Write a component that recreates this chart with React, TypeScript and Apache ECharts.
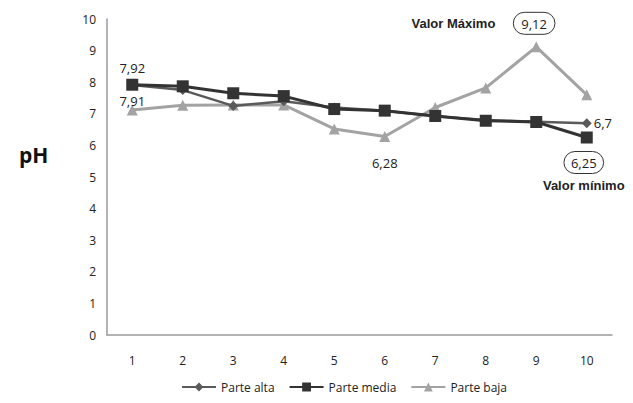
import React, { useEffect, useRef } from "react";
import * as echarts from "echarts";

const categories = ["1", "2", "3", "4", "5", "6", "7", "8", "9", "10"];
const parteAlta = [7.91, 7.75, 7.25, 7.4, 7.2, 7.1, 6.92, 6.8, 6.75, 6.7];
const parteMedia = [7.92, 7.87, 7.65, 7.56, 7.15, 7.1, 6.93, 6.78, 6.74, 6.25];
const parteBaja = [7.12, 7.27, 7.28, 7.28, 6.52, 6.28, 7.2, 7.82, 9.12, 7.6];
const yTicks = [0, 10, 1];

const narrow = "'Liberation Sans Narrow', 'Arial Narrow', 'Liberation Sans', sans-serif";
const font = "'Open Sans', 'Liberation Sans', sans-serif";

export default function App() {
  const ref = useRef<HTMLDivElement>(null);
  useEffect(() => {
    const chart = echarts.init(ref.current!, null, { renderer: "svg" });
    const mk = (arr: number[], fn: (v: number, i: number) => any) =>
      arr.map((v, i) => fn(v, i));
    chart.setOption({
      animation: false,
      backgroundColor: "#fff",
      textStyle: { fontFamily: font },
      grid: { left: 107, right: 21, top: 19, bottom: 68 },
      legend: {
        bottom: 5,
        left: 176,
        itemWidth: 34,
        itemHeight: 11,
        itemGap: 14,
        textStyle: { fontSize: 12, color: "#222", fontFamily: font },
        data: ["Parte alta", "Parte media", "Parte baja"],
      },
      graphic: [
        {
          type: "text",
          left: 19,
          top: 144,
          style: { text: "pH", font: `bold 21px ${font}`, fill: "#111" },
        },
      ],
      xAxis: {
        type: "category",
        data: categories,
        boundaryGap: true,
        axisLine: { lineStyle: { color: "#9a9a9a", width: 1.5 } },
        axisTick: { show: false },
        axisLabel: { fontSize: 12, color: "#222", margin: 19, fontFamily: font },
      },
      yAxis: {
        type: "value",
        min: yTicks[0],
        max: yTicks[1],
        interval: yTicks[2],
        splitLine: { show: false },
        axisLine: { show: true, lineStyle: { color: "#9a9a9a", width: 1.5 } },
        axisTick: { show: false },
        axisLabel: { fontSize: 12, color: "#222", margin: 11, fontFamily: font },
      },
      series: [
        {
          name: "Parte alta",
          type: "line",
          symbol: "diamond",
          symbolSize: 10,
          z: 3,
          lineStyle: { color: "#5a5a5a", width: 2.5 },
          itemStyle: { color: "#5a5a5a" },
          data: mk(parteAlta, (v, i) => {
            if (i === 0)
              return {
                value: v,
                label: {
                  show: true,
                  position: "bottom",
                  distance: 4,
                  formatter: "7,91",
                  fontSize: 13,
                  color: "#222",
                },
              };
            if (i === 9)
              return {
                value: v,
                label: {
                  show: true,
                  position: "right",
                  distance: 2,
                  formatter: "6,7",
                  fontSize: 13,
                  color: "#222",
                },
              };
            return v;
          }),
        },
        {
          name: "Parte media",
          type: "line",
          symbol: "rect",
          symbolSize: 12,
          z: 4,
          lineStyle: { color: "#333333", width: 3 },
          itemStyle: { color: "#333333" },
          data: mk(parteMedia, (v, i) => {
            if (i === 0)
              return {
                value: v,
                label: {
                  show: true,
                  position: "top",
                  distance: 4,
                  formatter: "7,92",
                  fontSize: 13,
                  color: "#222",
                },
              };
            if (i === 9)
              return {
                value: v,
                label: {
                  show: true,
                  position: "bottom",
                  distance: 8,
                  offset: [-3, 0],
                  formatter: "{e|6,25}\n{t|Valor mínimo}",
                  rich: {
                    e: {
                      fontSize: 13,
                      color: "#222",
                      borderColor: "#333",
                      borderWidth: 1,
                      borderRadius: 13,
                      padding: [5, 7, 4, 7],
                      fontFamily: font,
                    },
                    t: {
                      fontSize: 13,
                      fontWeight: "bold",
                      color: "#222",
                      fontFamily: narrow,
                      padding: [5, 0, 0, 0],
                    },
                  },
                },
              };
            return v;
          }),
        },
        {
          name: "Parte baja",
          type: "line",
          symbol: "triangle",
          symbolSize: 11,
          z: 2,
          lineStyle: { color: "#a3a3a3", width: 3 },
          itemStyle: { color: "#a3a3a3" },
          data: mk(parteBaja, (v, i) => {
            if (i === 5)
              return {
                value: v,
                label: {
                  show: true,
                  position: "bottom",
                  distance: 14,
                  formatter: "6,28",
                  fontSize: 13,
                  color: "#222",
                },
              };
            if (i === 8)
              return {
                value: v,
                label: {
                  show: true,
                  position: "top",
                  distance: 7,
                  offset: [-53, 0],
                  formatter: "{t|Valor Máximo}{s|}{e|9,12}",
                  rich: {
                    t: {
                      fontSize: 13,
                      fontWeight: "bold",
                      color: "#222",
                      fontFamily: narrow,
                    },
                    s: { width: 18 },
                    e: {
                      fontSize: 13,
                      color: "#222",
                      borderColor: "#333",
                      borderWidth: 1,
                      borderRadius: 13,
                      padding: [5, 8, 4, 8],
                      fontFamily: font,
                    },
                  },
                },
              };
            return v;
          }),
        },
      ],
    });
    return () => chart.dispose();
  }, []);
  return (
    <div
      ref={ref}
      style={{ position: "absolute", left: 0, top: 0, width: 633, height: 403 }}
    />
  );
}
